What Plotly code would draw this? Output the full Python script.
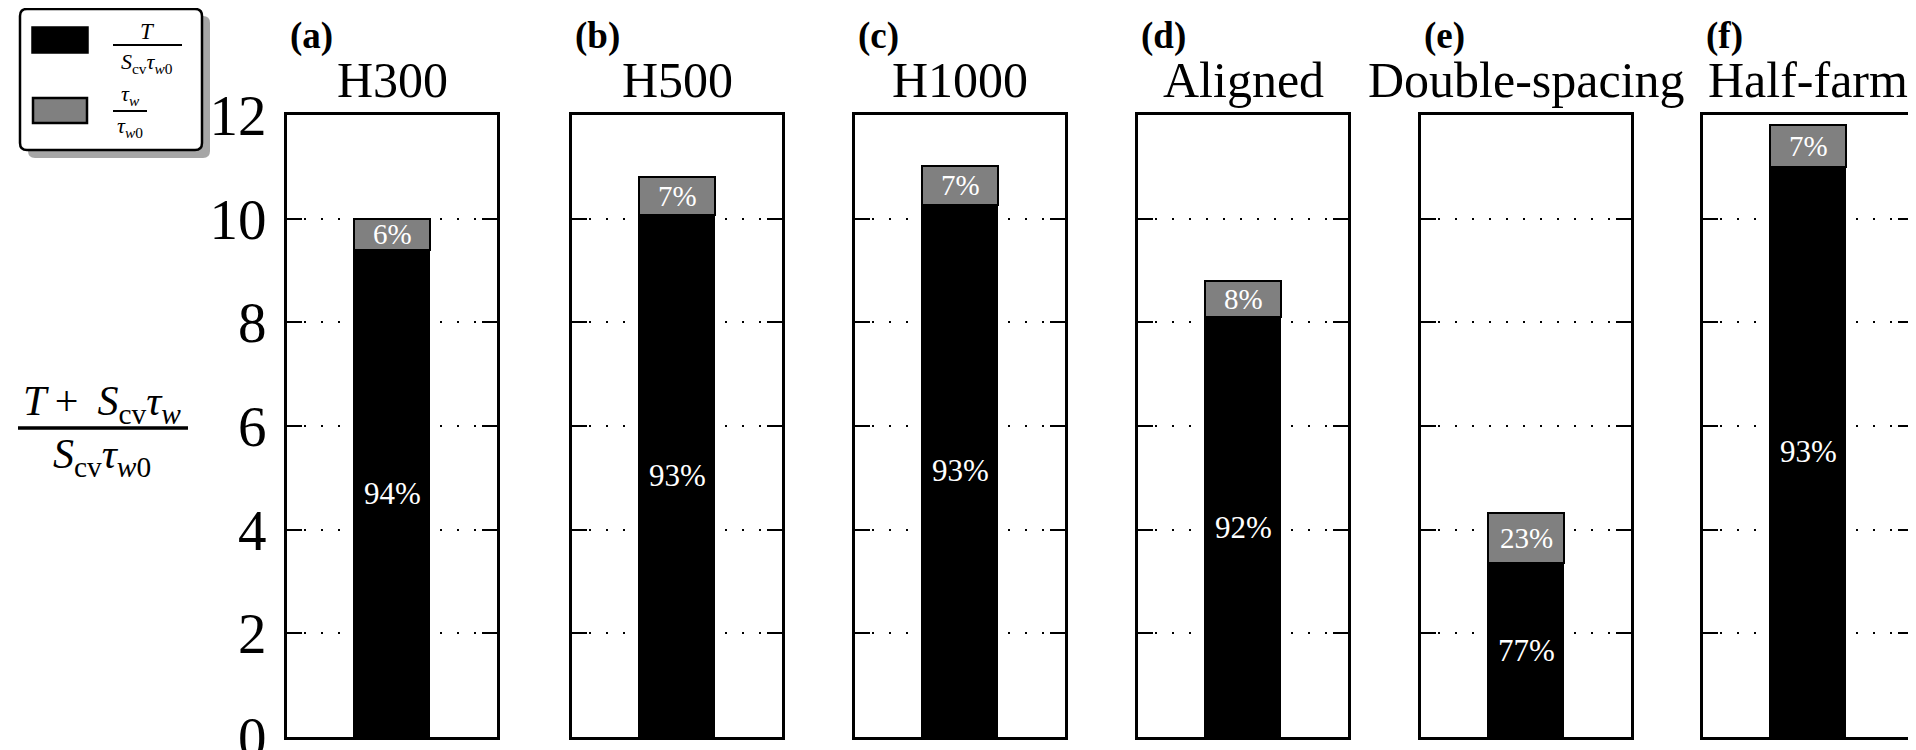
import plotly.graph_objects as go
from plotly.subplots import make_subplots

# ---- data ----
panel_tags = ["(a)", "(b)", "(c)", "(d)", "(e)", "(f)"]
cases = ["H300", "H500", "H1000", "Aligned", "Double-spacing", "Half-farm"]
thrust_part = [9.39, 10.08, 10.27, 8.10, 3.35, 11.00]   # T / (S_cv tau_w0)
stress_part = [0.61, 0.72, 0.75, 0.70, 0.97, 0.81]     # tau_w / tau_w0
thrust_pct = ["94%", "93%", "93%", "92%", "77%", "93%"]
stress_pct = ["6%", "7%", "7%", "8%", "23%", "7%"]
y_ticks = [0, 2, 4, 6, 8, 10, 12]

OFF = 8                      # default page body margin
W, H = 1916 - OFF, 750 - OFF
SERIF = "Liberation Serif, Times New Roman, serif"
GRAY = "#808080"


def fx(p):
    return (p - OFF) / W


def fy(p):
    return 1 - (p - OFF) / H


panel_left = [287, 572, 855, 1138, 1421, 1703]
panel_w = 210
top_px, bot_px = 115, 737

fig = make_subplots(rows=1, cols=6)

for i in range(6):
    fig.add_trace(go.Bar(x=[0], y=[thrust_part[i]], width=0.36,
                         marker=dict(color="black", line=dict(color="black", width=1.5)),
                         showlegend=False, hoverinfo="skip"), row=1, col=i + 1)
    fig.add_trace(go.Bar(x=[0], y=[stress_part[i]], width=0.36,
                         marker=dict(color=GRAY, line=dict(color="black", width=2.5)),
                         showlegend=False, hoverinfo="skip"), row=1, col=i + 1)
    xa = "x" if i == 0 else f"x{i + 1}"
    ya = "y" if i == 0 else f"y{i + 1}"
    # percentage labels
    fig.add_annotation(x=0, y=thrust_part[i] / 2, xref=xa, yref=ya, text=thrust_pct[i],
                       showarrow=False, font=dict(family=SERIF, size=31, color="white"))
    fig.add_annotation(x=0, y=thrust_part[i] + stress_part[i] / 2, xref=xa, yref=ya,
                       text=stress_pct[i], showarrow=False,
                       font=dict(family=SERIF, size=29, color="white"))
    # panel titles
    cx = panel_left[i] + panel_w / 2
    fig.add_annotation(x=fx(panel_left[i] + 1), y=fy(36), xref="paper", yref="paper",
                       text=f"<b>{panel_tags[i]}</b>", showarrow=False, xanchor="left",
                       yanchor="middle", font=dict(family=SERIF, size=37, color="black"))
    fig.add_annotation(x=fx(cx), y=fy(80), xref="paper", yref="paper",
                       text=cases[i], showarrow=False, xanchor="center",
                       yanchor="middle", font=dict(family=SERIF, size=50, color="black"))

    fig.update_xaxes(domain=[fx(panel_left[i]), fx(panel_left[i] + panel_w)],
                     range=[-0.5, 0.5], showticklabels=False, ticks="",
                     showgrid=False, zeroline=False, showline=True, mirror=True,
                     linecolor="black", linewidth=3, fixedrange=True, automargin=False,
                     row=1, col=i + 1)
    fig.update_yaxes(domain=[fy(bot_px), fy(top_px)], range=[0, 12],
                     tickvals=y_ticks, ticktext=[str(v) for v in y_ticks],
                     showticklabels=(i == 0), ticks="inside", ticklen=15, tickwidth=2,
                     tickcolor="black", showline=True, mirror="ticks", linecolor="black",
                     linewidth=3, showgrid=True, gridcolor="black", gridwidth=1.5,
                     griddash="2px,15px", zeroline=False, ticklabelstandoff=6,
                     ticklabeloverflow="allow", automargin=False,
                     tickfont=dict(family=SERIF, size=57, color="black"),
                     fixedrange=True, row=1, col=i + 1)

shapes = []


def rrect_path(x0, y0, x1, y1, r):
    pts = [
        ("M", [(x0 + r, y0)]), ("L", [(x1 - r, y0)]), ("Q", [(x1, y0), (x1, y0 + r)]),
        ("L", [(x1, y1 - r)]), ("Q", [(x1, y1), (x1 - r, y1)]), ("L", [(x0 + r, y1)]),
        ("Q", [(x0, y1), (x0, y1 - r)]), ("L", [(x0, y0 + r)]), ("Q", [(x0, y0), (x0 + r, y0)]),
    ]
    s = ""
    for cmd, ps in pts:
        s += cmd + " " + " ".join(f"{fx(a):.6f},{fy(b):.6f}" for a, b in ps) + " "
    return s + "Z"


# legend box with shadow
shapes.append(dict(type="path", xref="paper", yref="paper",
                   path=rrect_path(28, 16, 210, 158, 7), fillcolor="#a6a6a6",
                   line=dict(width=0), layer="above"))
shapes.append(dict(type="path", xref="paper", yref="paper",
                   path=rrect_path(20, 9, 202, 150, 7), fillcolor="white",
                   line=dict(color="black", width=2.5), layer="above"))
# legend patches
shapes.append(dict(type="rect", xref="paper", yref="paper", x0=fx(32), x1=fx(88),
                   y0=fy(53), y1=fy(27), fillcolor="black", line=dict(color="black", width=1.5),
                   layer="above"))
shapes.append(dict(type="rect", xref="paper", yref="paper", x0=fx(33), x1=fx(87),
                   y0=fy(123), y1=fy(98), fillcolor=GRAY, line=dict(color="black", width=2.5),
                   layer="above"))
# fraction bars
shapes.append(dict(type="line", xref="paper", yref="paper", x0=fx(113), x1=fx(182),
                   y0=fy(45), y1=fy(45), line=dict(color="black", width=2), layer="above"))
shapes.append(dict(type="line", xref="paper", yref="paper", x0=fx(113), x1=fx(147),
                   y0=fy(111), y1=fy(111), line=dict(color="black", width=2), layer="above"))
shapes.append(dict(type="line", xref="paper", yref="paper", x0=fx(18), x1=fx(188),
                   y0=fy(428), y1=fy(428), line=dict(color="black", width=3.5), layer="above"))
fig.update_layout(shapes=shapes)


def txt(x, y, s, size, anchor="center"):
    fig.add_annotation(x=fx(x), y=fy(y), xref="paper", yref="paper", text=s,
                       showarrow=False, xanchor=anchor, yanchor="middle",
                       font=dict(family=SERIF, size=size, color="black"))


# legend labels
txt(147, 31, "<i>T</i>", 23)
txt(147, 63, "<i>S</i><sub>cv</sub><i>τ</i><sub><i>w</i>0</sub>", 22)
txt(130, 95, "<i>τ</i><sub><i>w</i></sub>", 22)
txt(130, 127, "<i>τ</i><sub><i>w</i>0</sub>", 22)

# y-axis label as a fraction
txt(102, 404, "<i>T</i>\u2009+\u2009 <i>S</i><sub>cv</sub><i>τ</i><sub><i>w</i></sub>", 42)
txt(102, 457, "<i>S</i><sub>cv</sub><i>τ</i><sub><i>w</i>0</sub>", 42)

fig.update_layout(
    width=W, height=H, margin=dict(l=0, r=0, t=0, b=0, autoexpand=False),
    paper_bgcolor="white", plot_bgcolor="white", barmode="stack", bargap=0,
    showlegend=False,
)

fig.write_html("out.html")
